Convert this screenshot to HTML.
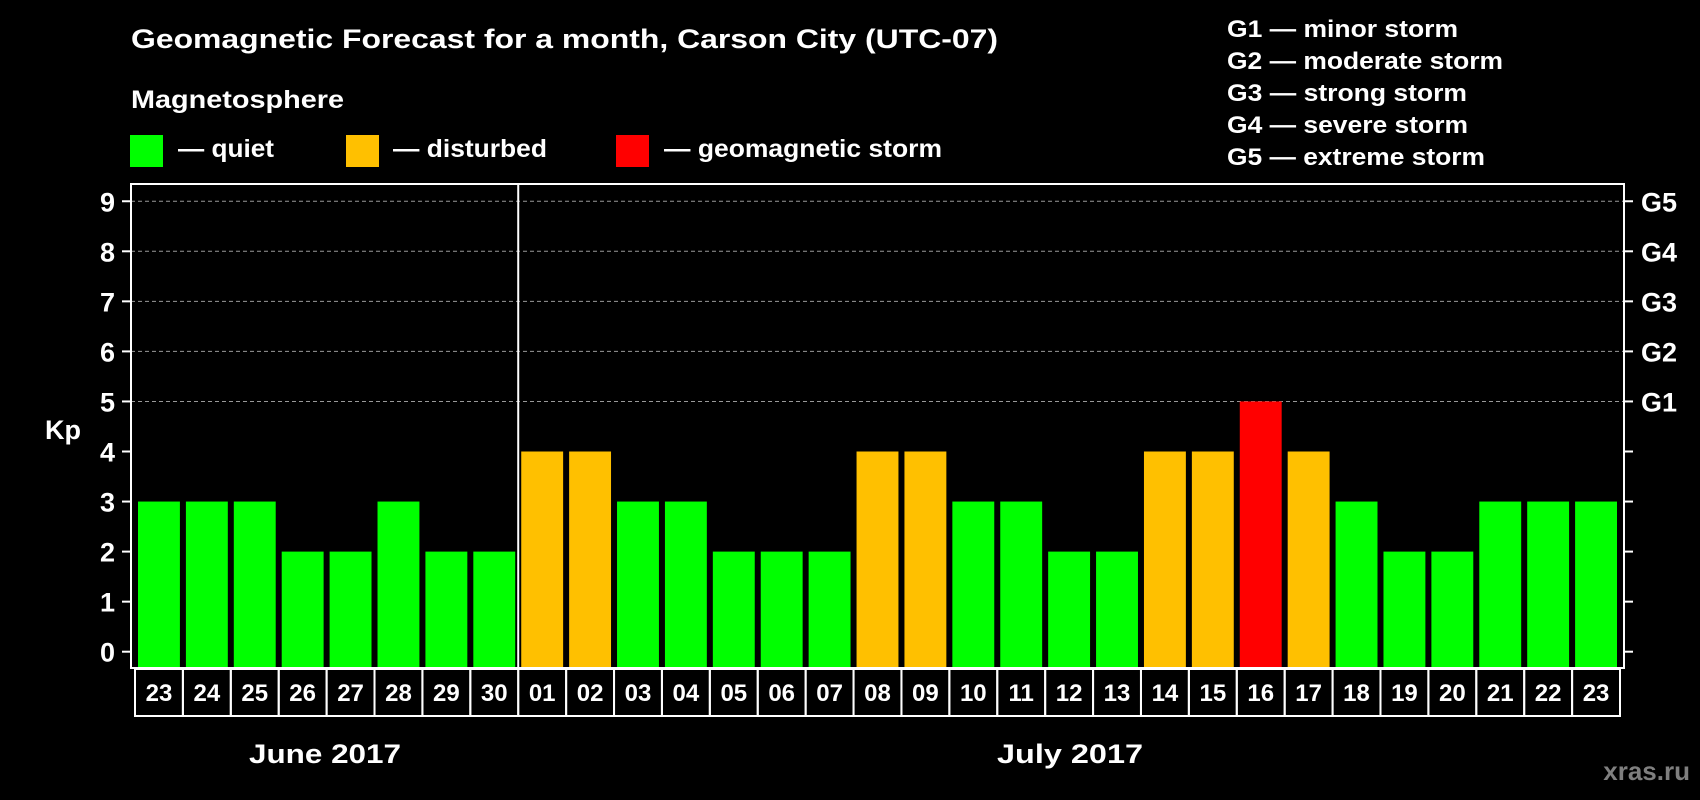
<!DOCTYPE html>
<html><head><meta charset="utf-8"><style>
html,body{margin:0;padding:0;background:#000;}
svg{display:block;}
text{font-family:"Liberation Sans",sans-serif;font-weight:bold;fill:#fff;}
</style></head><body>
<svg id="chart" width="1700" height="800" viewBox="0 0 1700 800">
<rect width="1700" height="800" fill="#000"/>
<text x="131" y="48" font-size="27" textLength="867" lengthAdjust="spacingAndGlyphs">Geomagnetic Forecast for a month, Carson City (UTC-07)</text>
<text x="131" y="108" font-size="25" textLength="213" lengthAdjust="spacingAndGlyphs">Magnetosphere</text>
<g><rect x="130" y="135" width="33" height="32" fill="#00ff00"/><text x="178" y="157" font-size="25" textLength="96" lengthAdjust="spacingAndGlyphs">— quiet</text></g>
<g><rect x="346" y="135" width="33" height="32" fill="#ffc000"/><text x="393" y="157" font-size="25" textLength="154" lengthAdjust="spacingAndGlyphs">— disturbed</text></g>
<g><rect x="616" y="135" width="33" height="32" fill="#ff0000"/><text x="664" y="157" font-size="25" textLength="278" lengthAdjust="spacingAndGlyphs">— geomagnetic storm</text></g>
<g font-size="24">
<text x="1227" y="37" textLength="231" lengthAdjust="spacingAndGlyphs">G1 — minor storm</text>
<text x="1227" y="69" textLength="276" lengthAdjust="spacingAndGlyphs">G2 — moderate storm</text>
<text x="1227" y="101" textLength="240" lengthAdjust="spacingAndGlyphs">G3 — strong storm</text>
<text x="1227" y="133" textLength="241" lengthAdjust="spacingAndGlyphs">G4 — severe storm</text>
<text x="1227" y="165" textLength="258" lengthAdjust="spacingAndGlyphs">G5 — extreme storm</text>
</g>
<text x="63" y="439" font-size="27" text-anchor="middle">Kp</text>
<text x="325" y="763" font-size="27" text-anchor="middle" textLength="152" lengthAdjust="spacingAndGlyphs">June 2017</text>
<text x="1070" y="763" font-size="27" text-anchor="middle" textLength="146" lengthAdjust="spacingAndGlyphs">July 2017</text>
<text x="1690" y="780" font-size="26" text-anchor="end" style="fill:#7f7f7f">xras.ru</text>
<g id="plot"></g>
</svg>
<script>
const days = ["23","24","25","26","27","28","29","30","01","02","03","04","05","06","07","08","09","10","11","12","13","14","15","16","17","18","19","20","21","22","23"];
const kpValues = [3,3,3,2,2,3,2,2,4,4,3,3,2,2,2,4,4,3,3,2,2,4,4,5,4,3,2,2,3,3,3];
const yTicks = [0,1,2,3,4,5,6,7,8,9];
const gLabels = ["G1","G2","G3","G4","G5"];
const gLevels = [5,6,7,8,9];
const monthSplitIndex = 8;

const NS = "http://www.w3.org/2000/svg";
const plot = document.getElementById("plot");
const L = 131, R = 1624, T = 184, B = 668;
const x0 = 135, pitch = (R - 4 - x0) / days.length;
const barW = pitch - 6;
const y = v => 651.7 - v * 50.05;
const xs = i => x0 + 3 + i * pitch;
function mk(tag, attrs) { const e = document.createElementNS(NS, tag); for (const k in attrs) e.setAttribute(k, attrs[k]); plot.appendChild(e); return e; }

yTicks.forEach(t => {
  if (t >= 5) {
    const g = mk("line", {x1: L, x2: R, y1: y(t), y2: y(t), stroke: "#999", "stroke-width": 1, "stroke-dasharray": "4,3"});
    
    
  }
  const tk = mk("line", {x1: L - 9, x2: L, y1: y(t), y2: y(t), stroke: "#fff", "stroke-width": 2});
  
  
  const tk2 = mk("line", {x1: R, x2: R + 9, y1: y(t), y2: y(t), stroke: "#fff", "stroke-width": 2});
  
  
  const lb = mk("text", {x: 115, y: y(t) + 10, "font-size": 27, "text-anchor": "end"});
  lb.textContent = t;
  
  
});
gLabels.forEach((g, i) => {
  const t = mk("text", {x: 1641, y: y(gLevels[i]) + 10, "font-size": 27});
  t.textContent = g;
  
  
});
kpValues.forEach((v, i) => {
  const col = v >= 5 ? "#ff0000" : (v >= 4 ? "#ffc000" : "#00ff00");
  const b = mk("rect", {x: xs(i), y: y(v), width: barW, height: B - 1 - y(v), fill: col});
  
  
  const c = mk("rect", {x: x0 + i * pitch, y: 669, width: pitch, height: 47, fill: "none", stroke: "#fff", "stroke-width": 2});
  
  
  const d = mk("text", {x: x0 + i * pitch + pitch / 2, y: 701, "font-size": 24, "text-anchor": "middle"});
  d.textContent = days[i];
  
  
});
const sx = x0 + monthSplitIndex * pitch;
const sp = mk("line", {x1: sx, x2: sx, y1: T, y2: B, stroke: "#fff", "stroke-width": 2});


const fr = mk("rect", {x: L, y: T, width: R - L, height: B - T, fill: "none", stroke: "#fff", "stroke-width": 2});


</script>
</body></html>
